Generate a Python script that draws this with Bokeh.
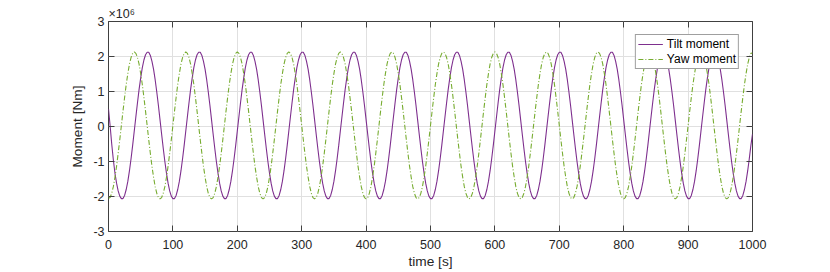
from bokeh.plotting import figure
from bokeh.models import Range1d, FixedTicker, LinearAxis, Title, Legend, LegendItem
from bokeh.embed import file_html
from bokeh.resources import INLINE

# ---------------- data (moments in units of 1e6 Nm, sampled every 2.5 s) ----------------
time_s = [i * 2.5 for i in range(401)]

tilt_moment = [
    0.50, 0.02, -0.50, -0.95, -1.33, -1.62, -1.84, -1.99, -2.06, -2.06, -1.97, -1.80, -1.57, -1.27, -0.92, -0.54, -0.13, 0.28, 0.68, 1.06, 1.39, 1.68, 1.90, 2.05, 2.12, 2.12, 2.03, 1.86, 1.63, 1.33, 0.98, 0.60,
    0.19, -0.22, -0.62, -1.00, -1.33, -1.62, -1.84, -1.99, -2.06, -2.06, -1.97, -1.80, -1.57, -1.27, -0.92, -0.54, -0.13, 0.28, 0.68, 1.06, 1.39, 1.68, 1.90, 2.05, 2.12, 2.12, 2.03, 1.86, 1.63, 1.33, 0.98, 0.60,
    0.19, -0.22, -0.62, -1.00, -1.33, -1.62, -1.84, -1.99, -2.06, -2.06, -1.97, -1.80, -1.57, -1.27, -0.92, -0.54, -0.13, 0.28, 0.68, 1.06, 1.39, 1.68, 1.90, 2.05, 2.12, 2.12, 2.03, 1.86, 1.63, 1.33, 0.98, 0.60,
    0.19, -0.22, -0.62, -1.00, -1.33, -1.62, -1.84, -1.99, -2.06, -2.06, -1.97, -1.80, -1.57, -1.27, -0.92, -0.54, -0.13, 0.28, 0.68, 1.06, 1.39, 1.68, 1.90, 2.05, 2.12, 2.12, 2.03, 1.86, 1.63, 1.33, 0.98, 0.60,
    0.19, -0.22, -0.62, -1.00, -1.33, -1.62, -1.84, -1.99, -2.06, -2.06, -1.97, -1.80, -1.57, -1.27, -0.92, -0.54, -0.13, 0.28, 0.68, 1.06, 1.39, 1.68, 1.90, 2.05, 2.12, 2.12, 2.03, 1.86, 1.63, 1.33, 0.98, 0.60,
    0.19, -0.22, -0.62, -1.00, -1.33, -1.62, -1.84, -1.99, -2.06, -2.06, -1.97, -1.80, -1.57, -1.27, -0.92, -0.54, -0.13, 0.28, 0.68, 1.06, 1.39, 1.68, 1.90, 2.05, 2.12, 2.12, 2.03, 1.86, 1.63, 1.33, 0.98, 0.60,
    0.19, -0.22, -0.62, -1.00, -1.33, -1.62, -1.84, -1.99, -2.06, -2.06, -1.97, -1.80, -1.57, -1.27, -0.92, -0.54, -0.13, 0.28, 0.68, 1.06, 1.39, 1.68, 1.90, 2.05, 2.12, 2.12, 2.03, 1.86, 1.63, 1.33, 0.98, 0.60,
    0.19, -0.22, -0.62, -1.00, -1.33, -1.62, -1.84, -1.99, -2.06, -2.06, -1.97, -1.80, -1.57, -1.27, -0.92, -0.54, -0.13, 0.28, 0.68, 1.06, 1.39, 1.68, 1.90, 2.05, 2.12, 2.12, 2.03, 1.86, 1.63, 1.33, 0.98, 0.60,
    0.19, -0.22, -0.62, -1.00, -1.33, -1.62, -1.84, -1.99, -2.06, -2.06, -1.97, -1.80, -1.57, -1.27, -0.92, -0.54, -0.13, 0.28, 0.68, 1.06, 1.39, 1.68, 1.90, 2.05, 2.12, 2.12, 2.03, 1.86, 1.63, 1.33, 0.98, 0.60,
    0.19, -0.22, -0.62, -1.00, -1.33, -1.62, -1.84, -1.99, -2.06, -2.06, -1.97, -1.80, -1.57, -1.27, -0.92, -0.54, -0.13, 0.28, 0.68, 1.06, 1.39, 1.68, 1.90, 2.05, 2.12, 2.12, 2.03, 1.86, 1.63, 1.33, 0.98, 0.60,
    0.19, -0.22, -0.62, -1.00, -1.33, -1.62, -1.84, -1.99, -2.06, -2.06, -1.97, -1.80, -1.57, -1.27, -0.92, -0.54, -0.13, 0.28, 0.68, 1.06, 1.39, 1.68, 1.90, 2.05, 2.12, 2.12, 2.03, 1.86, 1.63, 1.33, 0.98, 0.60,
    0.19, -0.22, -0.62, -1.00, -1.33, -1.62, -1.84, -1.99, -2.06, -2.06, -1.97, -1.80, -1.57, -1.27, -0.92, -0.54, -0.13, 0.28, 0.68, 1.06, 1.39, 1.68, 1.90, 2.05, 2.12, 2.12, 2.03, 1.86, 1.63, 1.33, 0.98, 0.60,
    0.19, -0.22, -0.62, -1.00, -1.33, -1.62, -1.84, -1.99, -2.06, -2.06, -1.97, -1.80, -1.57, -1.27, -0.92, -0.54, -0.22,
]

yaw_moment = [
    -2.05, -2.03, -1.91, -1.72, -1.45, -1.14, -0.77, -0.38, 0.03, 0.44, 0.83, 1.20, 1.51, 1.78, 1.97, 2.09, 2.13, 2.09, 1.97, 1.78, 1.51, 1.20, 0.83, 0.44, 0.03, -0.38, -0.77, -1.14, -1.45, -1.72, -1.91, -2.03,
    -2.07, -2.03, -1.91, -1.72, -1.45, -1.14, -0.77, -0.38, 0.03, 0.44, 0.83, 1.20, 1.51, 1.78, 1.97, 2.09, 2.13, 2.09, 1.97, 1.78, 1.51, 1.20, 0.83, 0.44, 0.03, -0.38, -0.77, -1.14, -1.45, -1.72, -1.91, -2.03,
    -2.07, -2.03, -1.91, -1.72, -1.45, -1.14, -0.77, -0.38, 0.03, 0.44, 0.83, 1.20, 1.51, 1.78, 1.97, 2.09, 2.13, 2.09, 1.97, 1.78, 1.51, 1.20, 0.83, 0.44, 0.03, -0.38, -0.77, -1.14, -1.45, -1.72, -1.91, -2.03,
    -2.07, -2.03, -1.91, -1.72, -1.45, -1.14, -0.77, -0.38, 0.03, 0.44, 0.83, 1.20, 1.51, 1.78, 1.97, 2.09, 2.13, 2.09, 1.97, 1.78, 1.51, 1.20, 0.83, 0.44, 0.03, -0.38, -0.77, -1.14, -1.45, -1.72, -1.91, -2.03,
    -2.07, -2.03, -1.91, -1.72, -1.45, -1.14, -0.77, -0.38, 0.03, 0.44, 0.83, 1.20, 1.51, 1.78, 1.97, 2.09, 2.13, 2.09, 1.97, 1.78, 1.51, 1.20, 0.83, 0.44, 0.03, -0.38, -0.77, -1.14, -1.45, -1.72, -1.91, -2.03,
    -2.07, -2.03, -1.91, -1.72, -1.45, -1.14, -0.77, -0.38, 0.03, 0.44, 0.83, 1.20, 1.51, 1.78, 1.97, 2.09, 2.13, 2.09, 1.97, 1.78, 1.51, 1.20, 0.83, 0.44, 0.03, -0.38, -0.77, -1.14, -1.45, -1.72, -1.91, -2.03,
    -2.07, -2.03, -1.91, -1.72, -1.45, -1.14, -0.77, -0.38, 0.03, 0.44, 0.83, 1.20, 1.51, 1.78, 1.97, 2.09, 2.13, 2.09, 1.97, 1.78, 1.51, 1.20, 0.83, 0.44, 0.03, -0.38, -0.77, -1.14, -1.45, -1.72, -1.91, -2.03,
    -2.07, -2.03, -1.91, -1.72, -1.45, -1.14, -0.77, -0.38, 0.03, 0.44, 0.83, 1.20, 1.51, 1.78, 1.97, 2.09, 2.13, 2.09, 1.97, 1.78, 1.51, 1.20, 0.83, 0.44, 0.03, -0.38, -0.77, -1.14, -1.45, -1.72, -1.91, -2.03,
    -2.07, -2.03, -1.91, -1.72, -1.45, -1.14, -0.77, -0.38, 0.03, 0.44, 0.83, 1.20, 1.51, 1.78, 1.97, 2.09, 2.13, 2.09, 1.97, 1.78, 1.51, 1.20, 0.83, 0.44, 0.03, -0.38, -0.77, -1.14, -1.45, -1.72, -1.91, -2.03,
    -2.07, -2.03, -1.91, -1.72, -1.45, -1.14, -0.77, -0.38, 0.03, 0.44, 0.83, 1.20, 1.51, 1.78, 1.97, 2.09, 2.13, 2.09, 1.97, 1.78, 1.51, 1.20, 0.83, 0.44, 0.03, -0.38, -0.77, -1.14, -1.45, -1.72, -1.91, -2.03,
    -2.07, -2.03, -1.91, -1.72, -1.45, -1.14, -0.77, -0.38, 0.03, 0.44, 0.83, 1.20, 1.51, 1.78, 1.97, 2.09, 2.13, 2.09, 1.97, 1.78, 1.51, 1.20, 0.83, 0.44, 0.03, -0.38, -0.77, -1.14, -1.45, -1.72, -1.91, -2.03,
    -2.07, -2.03, -1.91, -1.72, -1.45, -1.14, -0.77, -0.38, 0.03, 0.44, 0.83, 1.20, 1.51, 1.78, 1.97, 2.09, 2.13, 2.09, 1.97, 1.78, 1.51, 1.20, 0.83, 0.44, 0.03, -0.38, -0.77, -1.14, -1.45, -1.72, -1.91, -2.03,
    -2.07, -2.03, -1.91, -1.72, -1.45, -1.14, -0.77, -0.38, 0.03, 0.44, 0.83, 1.20, 1.51, 1.78, 1.97, 2.09, 2.10,
]

x_ticks = [0, 100, 200, 300, 400, 500, 600, 700, 800, 900, 1000]
x_tick_labels = ["0", "100", "200", "300", "400", "500", "600", "700", "800", "900", "1000"]
y_ticks = [-3, -2, -1, 0, 1, 2, 3]
y_tick_labels = ["-3", "-2", "-1", "0", "1", "2", "3"]

series_names = ["Tilt moment", "Yaw moment"]
x_label = "time [s]"
y_label = "Moment [Nm]"
exponent_text = "\u00d710\u2076"

# ---------------- styling ----------------
FONT = "Liberation Sans"
TXT = "#262626"
AX = "#404040"
GRID = "#e0e0e0"
TILT_COLOR = "#7E2F8E"
YAW_COLOR = "#77AC30"

p = figure(width=830, height=272,
           x_range=Range1d(0, 1000), y_range=Range1d(-3, 3),
           output_backend="svg", toolbar_location=None,
           min_border_left=108, min_border_right=78,
           min_border_top=21, min_border_bottom=41,
           background_fill_color="white", border_fill_color="white")

p.outline_line_color = AX
p.outline_line_width = 1

xt = FixedTicker(ticks=x_ticks)
yt = FixedTicker(ticks=y_ticks)
x_over = {t: l for t, l in zip(x_ticks, x_tick_labels)}
y_over = {t: l for t, l in zip(y_ticks, y_tick_labels)}

bx = p.xaxis[0]
ly = p.yaxis[0]
bx.ticker = xt
ly.ticker = yt
bx.major_label_overrides = x_over
ly.major_label_overrides = y_over

for ax in (bx, ly):
    ax.axis_line_color = None
    ax.major_tick_in = 6
    ax.major_tick_out = 0
    ax.major_tick_line_color = AX
    ax.minor_tick_line_color = None
    ax.major_label_text_font = FONT
    ax.major_label_text_font_size = "12.5px"
    ax.major_label_text_color = TXT
    ax.axis_label_text_font = FONT
    ax.axis_label_text_font_size = "13.7px"
    ax.axis_label_text_font_style = "normal"
    ax.axis_label_text_color = TXT

bx.axis_label = x_label
ly.axis_label = y_label
bx.major_label_standoff = 8
bx.axis_label_standoff = 2
ly.major_label_standoff = 4
ly.axis_label_standoff = 5

for place, tk in (("above", xt), ("right", yt)):
    a = LinearAxis(ticker=tk)
    a.axis_line_color = None
    a.major_tick_in = 6
    a.major_tick_out = 0
    a.major_tick_line_color = AX
    a.minor_tick_line_color = None
    a.major_label_text_font_size = "0px"
    a.major_label_standoff = 0
    a.major_label_text_color = None
    p.add_layout(a, place)

# exponent marker (x10^6) shown above the top-left corner of the axes
exp_title = Title(text=exponent_text, align="left", text_font=FONT,
                  text_font_size="12.5px", text_font_style="normal",
                  text_color=TXT, standoff=2, offset=0)
p.add_layout(exp_title, "above")

p.xgrid.ticker = xt
p.ygrid.ticker = yt
p.xgrid.grid_line_color = GRID
p.ygrid.grid_line_color = GRID
p.xgrid.grid_line_width = 1
p.ygrid.grid_line_width = 1

r_tilt = p.line(time_s, tilt_moment, line_color=TILT_COLOR, line_width=1.1)
r_yaw = p.line(time_s, yaw_moment, line_color=YAW_COLOR, line_width=1.1, line_dash="5 2 1 2")

legend = Legend(items=[LegendItem(label=series_names[0], renderers=[r_tilt]),
                       LegendItem(label=series_names[1], renderers=[r_yaw])],
                location="top_right")
legend.margin = 13
legend.padding = 2
legend.spacing = 1
legend.glyph_width = 25
legend.glyph_height = 14
legend.label_height = 14
legend.label_standoff = 4
legend.label_text_font = FONT
legend.label_text_font_size = "12px"
legend.label_text_color = "#000000"
legend.border_line_color = AX
legend.border_line_width = 1
legend.background_fill_color = "white"
legend.background_fill_alpha = 1
p.add_layout(legend)

open("out.html", "w").write(file_html(p, INLINE))
